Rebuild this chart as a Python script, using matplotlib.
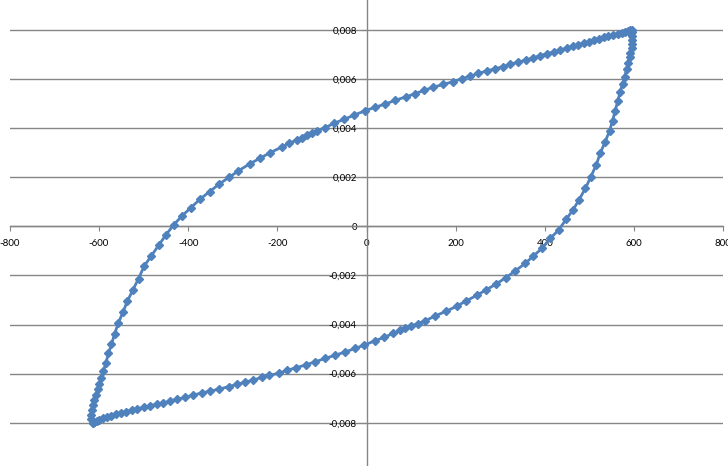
import numpy as np
import matplotlib.pyplot as plt
from matplotlib.ticker import FuncFormatter, MultipleLocator, FixedLocator

# Hysteresesloekke: ovre gren (fra nedre venstre hjorne opp til ovre hoyre)
x_upper = [-613.5, -617.9, -616.6, -615.0, -612.8, -609.9, -606.7, -602.3, -599.3, -594.8,
           -589.7, -584.3, -578.5, -571.8, -565.0, -556.1, -546.2, -535.9, -523.8, -511.2,
           -498.4, -482.7, -465.5, -449.8, -432.7, -413.9, -393.7, -372.9, -352.0, -330.3,
           -307.9, -287.0, -262.3, -238.3, -215.9, -189.7, -173.3, -156.1, -144.8, -133.6,
           -122.4, -111.2, -92.6, -72.4, -50.0, -27.6, -2.9, 19.5, 41.9, 64.4,
           89.0, 109.2, 129.4, 150.2, 172.6, 193.7, 213.9, 232.5, 251.1, 270.0,
           288.6, 305.8, 322.2, 340.8, 357.4, 373.1, 389.5, 404.5, 419.3, 434.3,
           449.3, 464.1, 475.3, 486.6, 497.8, 509.0, 520.2, 531.4, 542.6, 553.8,
           562.8, 572.7, 580.1, 586.1, 591.3, 594.6]
y_upper = [-0.00800, -0.00786, -0.00769, -0.00748, -0.00728, -0.00708, -0.00687, -0.00664, -0.00642, -0.00619,
           -0.00588, -0.00556, -0.00517, -0.00481, -0.00439, -0.00393, -0.00350, -0.00304, -0.00259, -0.00213,
           -0.00162, -0.00121, -0.00076, -0.00035, 0.00005, 0.00042, 0.00076, 0.00111, 0.00141, 0.00172,
           0.00200, 0.00226, 0.00254, 0.00278, 0.00300, 0.00323, 0.00338, 0.00352, 0.00361, 0.00372,
           0.00381, 0.00389, 0.00402, 0.00420, 0.00436, 0.00453, 0.00471, 0.00485, 0.00498, 0.00513,
           0.00528, 0.00540, 0.00554, 0.00567, 0.00578, 0.00589, 0.00601, 0.00612, 0.00623, 0.00633,
           0.00642, 0.00650, 0.00660, 0.00669, 0.00677, 0.00686, 0.00695, 0.00703, 0.00710, 0.00718,
           0.00726, 0.00733, 0.00740, 0.00745, 0.00752, 0.00759, 0.00764, 0.00770, 0.00775, 0.00780,
           0.00785, 0.00789, 0.00793, 0.00797, 0.00800, 0.00800]

# Nedre gren (fra ovre hoyre hjorne ned og tilbake til start)
x_lower = [595.1, 596.4, 596.4, 595.8, 594.2, 591.9, 589.7, 586.8, 583.0, 578.5,
           574.0, 568.8, 563.7, 557.6, 551.6, 544.9, 535.2, 524.0, 515.0, 503.1,
           491.0, 476.2, 462.8, 447.8, 430.5, 411.9, 393.3, 374.4, 355.8, 333.4,
           312.6, 290.8, 268.4, 247.5, 223.5, 202.7, 178.7, 154.0, 131.6, 114.4,
           99.6, 86.8, 75.6, 60.5, 39.7, 19.5, -5.2, -25.3, -47.8, -70.2,
           -92.6, -115.0, -135.2, -157.6, -178.5, -197.3, -217.5, -234.5, -253.4, -272.0,
           -290.6, -309.4, -329.6, -350.5, -369.1, -387.9, -406.5, -425.1, -440.1, -455.2,
           -470.0, -485.0, -500.0, -513.5, -526.0, -538.8, -550.7, -561.9, -572.4, -582.1,
           -591.1, -598.7, -604.5, -609.9, -613.5]
y_lower = [0.00793, 0.00775, 0.00759, 0.00743, 0.00725, 0.00707, 0.00688, 0.00666, 0.00640, 0.00607,
           0.00580, 0.00548, 0.00512, 0.00471, 0.00430, 0.00388, 0.00345, 0.00297, 0.00250, 0.00202,
           0.00155, 0.00107, 0.00066, 0.00029, -0.00016, -0.00049, -0.00090, -0.00121, -0.00151, -0.00182,
           -0.00209, -0.00235, -0.00259, -0.00281, -0.00304, -0.00325, -0.00346, -0.00365, -0.00385, -0.00397,
           -0.00406, -0.00415, -0.00424, -0.00436, -0.00452, -0.00466, -0.00484, -0.00497, -0.00512, -0.00525,
           -0.00538, -0.00552, -0.00564, -0.00576, -0.00587, -0.00599, -0.00607, -0.00615, -0.00626, -0.00635,
           -0.00644, -0.00653, -0.00663, -0.00671, -0.00679, -0.00687, -0.00697, -0.00705, -0.00712, -0.00719,
           -0.00724, -0.00731, -0.00737, -0.00744, -0.00749, -0.00755, -0.00760, -0.00766, -0.00771, -0.00777,
           -0.00782, -0.00788, -0.00792, -0.00796, -0.00800]

y_ticks = [-0.008, -0.006, -0.004, -0.002, 0, 0.002, 0.004, 0.006, 0.008]

x_vals = x_upper + x_lower
y_vals = y_upper + y_lower

plt.rcParams['font.family'] = ['Lato', 'DejaVu Sans']
plt.rcParams['axes.unicode_minus'] = False

blue = '#4F81BD'
grey = '#868686'

fig = plt.figure(figsize=(7.28, 4.66), dpi=100)
# plottomraadet er storre enn bildet i hoyden (beskaaret som i originalen)
ax = fig.add_axes([9.7 / 728, -5.8 / 466, 713.6 / 728, 491.0 / 466])

ax.plot(x_vals, y_vals, color=blue, lw=2, marker='D', markersize=4.2,
        markerfacecolor=blue, markeredgecolor=blue, zorder=3)

ax.set_xlim(-800, 800)
ax.set_ylim(-0.01, 0.01)
ax.xaxis.set_major_locator(MultipleLocator(200))
ax.yaxis.set_major_locator(FixedLocator(y_ticks))

def y_fmt(v, pos):
    if abs(v) < 1e-12:
        return '0'
    return ('%.3f' % v).replace('.', ',')

ax.yaxis.set_major_formatter(FuncFormatter(y_fmt))
ax.xaxis.set_major_formatter(FuncFormatter(lambda v, pos: '%d' % round(v)))

ax.yaxis.grid(True, color=grey, lw=1.0)
ax.set_axisbelow(True)

for side in ['top', 'right']:
    ax.spines[side].set_visible(False)
ax.spines['left'].set_position(('data', 0))
ax.spines['bottom'].set_position(('data', 0))
ax.spines['left'].set_color(grey)
ax.spines['bottom'].set_color(grey)
ax.spines['left'].set_linewidth(1.0)
ax.spines['bottom'].set_linewidth(1.0)

ax.tick_params(axis='x', direction='out', length=3.5, width=0.8, color=grey,
               labelsize=7, pad=6)
ax.tick_params(axis='y', direction='out', length=4, width=0.8, color=grey,
               labelsize=7, pad=3)

fig.savefig('out.png', dpi=100)
